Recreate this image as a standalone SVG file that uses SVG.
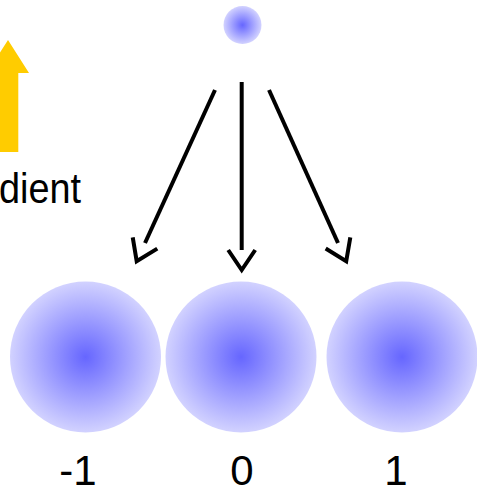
<svg xmlns="http://www.w3.org/2000/svg" width="477" height="491" viewBox="0 0 477 491">
<style>
  .lbl { font-family: "Liberation Sans", Arial, sans-serif; font-size: 42px; fill: #000; }
  .conn { stroke: #000; stroke-width: 4; fill: none; }
  .ball { fill: url(#blue); }
</style>
<defs>
  <radialGradient id="blue" cx="0.5" cy="0.5" r="0.5">
    <stop offset="0" stop-color="#6666ff"/>
    <stop offset="1" stop-color="#d2d2ff"/>
  </radialGradient>
  <marker id="chev" markerUnits="userSpaceOnUse" markerWidth="30" markerHeight="34" viewBox="-4 -17 30 34" refX="0" refY="0" orient="auto" overflow="visible">
    <path d="M0,-13.5 L20,0 L0,13.5" fill="none" stroke="#000" stroke-width="4"/>
  </marker>
</defs>
<g id="gradient-arrow">
  <polygon points="8,40 29,73 18.3,73 18.3,152 -2.3,152 -2.3,73 -13,73" fill="#ffcc00"/>
  <text class="lbl" x="-1" y="203" font-size="41" textLength="82" lengthAdjust="spacingAndGlyphs">dient</text>
</g>
<g id="top">
  <circle class="ball" cx="242.5" cy="25" r="19"/>
</g>
<g id="node-m1">
  <circle class="ball" cx="85.5" cy="357" r="75.5"/>
  <text class="lbl" x="78" y="485" text-anchor="middle">-1</text>
</g>
<g id="node-0">
  <circle class="ball" cx="241" cy="357" r="75.5"/>
  <text class="lbl" x="242" y="485" text-anchor="middle">0</text>
</g>
<g id="node-1">
  <circle class="ball" cx="402" cy="357" r="75.5"/>
  <text class="lbl" x="396" y="485" text-anchor="middle">1</text>
</g>
<g id="connectors">
  <line class="conn" x1="215" y1="90" x2="145" y2="243" marker-end="url(#chev)"/>
  <line class="conn" x1="241.7" y1="82" x2="241.7" y2="250" marker-end="url(#chev)"/>
  <line class="conn" x1="269" y1="90" x2="338" y2="243" marker-end="url(#chev)"/>
</g>
</svg>
